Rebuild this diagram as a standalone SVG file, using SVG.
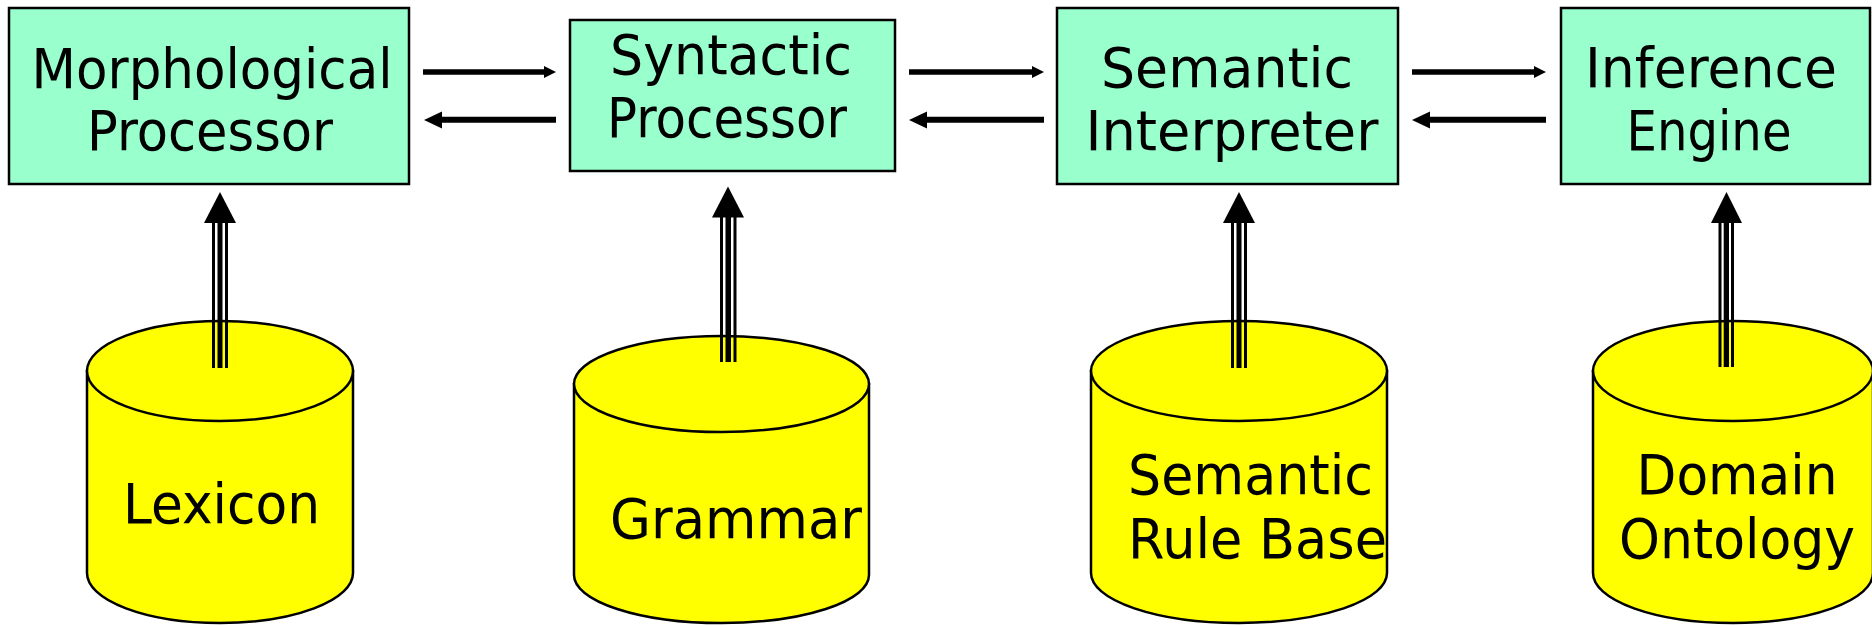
<svg xmlns="http://www.w3.org/2000/svg" width="1872" height="625" viewBox="0 0 1872 625">
<style>
.box{fill:#99FFCC;stroke:#000;stroke-width:2.5}
.cyl{fill:#FFFF00;stroke:#000;stroke-width:2.5}
.t{font-family:"DejaVu Sans",Verdana,sans-serif;font-size:55px;fill:#000}
.m{text-anchor:middle}
.ln{stroke:#000;fill:none}
.hd{fill:#000}
</style>
<rect width="1872" height="625" fill="#fff"/>
<g id="morph">
<rect class="box" x="9" y="8" width="400" height="176"/>
<text class="t m" x="212" y="88" textLength="361" lengthAdjust="spacingAndGlyphs">Morphological</text>
<text class="t m" x="210" y="150" textLength="246" lengthAdjust="spacingAndGlyphs">Processor</text>
</g>
<g id="syntactic">
<rect class="box" x="570" y="20" width="325" height="151"/>
<text class="t m" x="731" y="74" textLength="242" lengthAdjust="spacingAndGlyphs">Syntactic</text>
<text class="t m" x="727" y="137" textLength="240" lengthAdjust="spacingAndGlyphs">Processor</text>
</g>
<g id="semantic">
<rect class="box" x="1057" y="8" width="341" height="176"/>
<text class="t m" x="1227" y="87" textLength="252" lengthAdjust="spacingAndGlyphs">Semantic</text>
<text class="t m" x="1232" y="150" textLength="293" lengthAdjust="spacingAndGlyphs">Interpreter</text>
</g>
<g id="inference">
<rect class="box" x="1561" y="8" width="309" height="176"/>
<text class="t m" x="1711" y="87" textLength="252" lengthAdjust="spacingAndGlyphs">Inference</text>
<text class="t m" x="1709" y="150" textLength="165" lengthAdjust="spacingAndGlyphs">Engine</text>
</g>
<g id="lexicon">
<path class="cyl" d="M87 371 V573 A133 50 0 0 0 353 573 V371 Z"/>
<ellipse class="cyl" cx="220" cy="371" rx="133" ry="50"/>
<text class="t" x="123" y="523" textLength="197" lengthAdjust="spacingAndGlyphs">Lexicon</text>
</g>
<g id="grammar">
<path class="cyl" d="M574 384 V575 A147.5 48 0 0 0 869 575 V384 Z"/>
<ellipse class="cyl" cx="721.5" cy="384" rx="147.5" ry="48"/>
<text class="t" x="610" y="538" textLength="252" lengthAdjust="spacingAndGlyphs">Grammar</text>
</g>
<g id="rulebase">
<path class="cyl" d="M1091 371 V573 A148 50 0 0 0 1387 573 V371 Z"/>
<ellipse class="cyl" cx="1239" cy="371" rx="148" ry="50"/>
<text class="t" x="1128" y="494" textLength="245" lengthAdjust="spacingAndGlyphs">Semantic</text>
<text class="t" x="1128" y="558" textLength="259" lengthAdjust="spacingAndGlyphs">Rule Base</text>
</g>
<g id="ontology">
<path class="cyl" d="M1593 371 V573 A140 50 0 0 0 1873 573 V371 Z"/>
<ellipse class="cyl" cx="1733" cy="371" rx="140" ry="50"/>
<text class="t m" x="1737" y="494" textLength="201" lengthAdjust="spacingAndGlyphs">Domain</text>
<text class="t m" x="1737" y="558" textLength="236" lengthAdjust="spacingAndGlyphs">Ontology</text>
</g>
<g id="connectors">
<g>
<line class="ln" x1="423" y1="72" x2="545" y2="72" stroke-width="5.5"/>
<polygon class="hd" points="544,66 556,72 544,78"/>
<line class="ln" x1="441" y1="119.7" x2="556" y2="119.7" stroke-width="6"/>
<polygon class="hd" points="424,120 442,111.5 442,128.5"/>
</g>
<g>
<line class="ln" x1="909" y1="72" x2="1033" y2="72" stroke-width="5.5"/>
<polygon class="hd" points="1032,66 1044,72 1032,78"/>
<line class="ln" x1="927" y1="119.7" x2="1044" y2="119.7" stroke-width="6"/>
<polygon class="hd" points="909,120 927,111.5 927,128.5"/>
</g>
<g>
<line class="ln" x1="1412" y1="72" x2="1535" y2="72" stroke-width="5.5"/>
<polygon class="hd" points="1534,66 1546,72 1534,78"/>
<line class="ln" x1="1430" y1="119.7" x2="1546" y2="119.7" stroke-width="6"/>
<polygon class="hd" points="1412,120 1430,111.5 1430,128.5"/>
</g>
<g id="v1">
<polygon class="hd" points="220,192 236,223 204,223"/>
<rect x="212" y="222" width="3" height="146"/><rect x="217.5" y="222" width="5" height="146"/><rect x="225" y="222" width="3" height="146"/>
</g>
<g id="v2">
<polygon class="hd" points="728,186.5 744,217.5 712,217.5"/>
<rect x="720" y="216" width="3" height="146"/><rect x="725.5" y="216" width="5.5" height="146"/><rect x="733.5" y="216" width="3" height="146"/>
</g>
<g id="v3">
<polygon class="hd" points="1239,192 1255,223 1223,223"/>
<rect x="1231" y="222" width="3" height="146"/><rect x="1236.5" y="222" width="5" height="146"/><rect x="1244" y="222" width="3" height="146"/>
</g>
<g id="v4">
<polygon class="hd" points="1726.5,192 1742,223 1711,223"/>
<rect x="1718.5" y="222" width="3" height="145"/><rect x="1723.7" y="222" width="5.3" height="145"/><rect x="1731" y="222" width="3" height="145"/>
</g>
</g>
</svg>
